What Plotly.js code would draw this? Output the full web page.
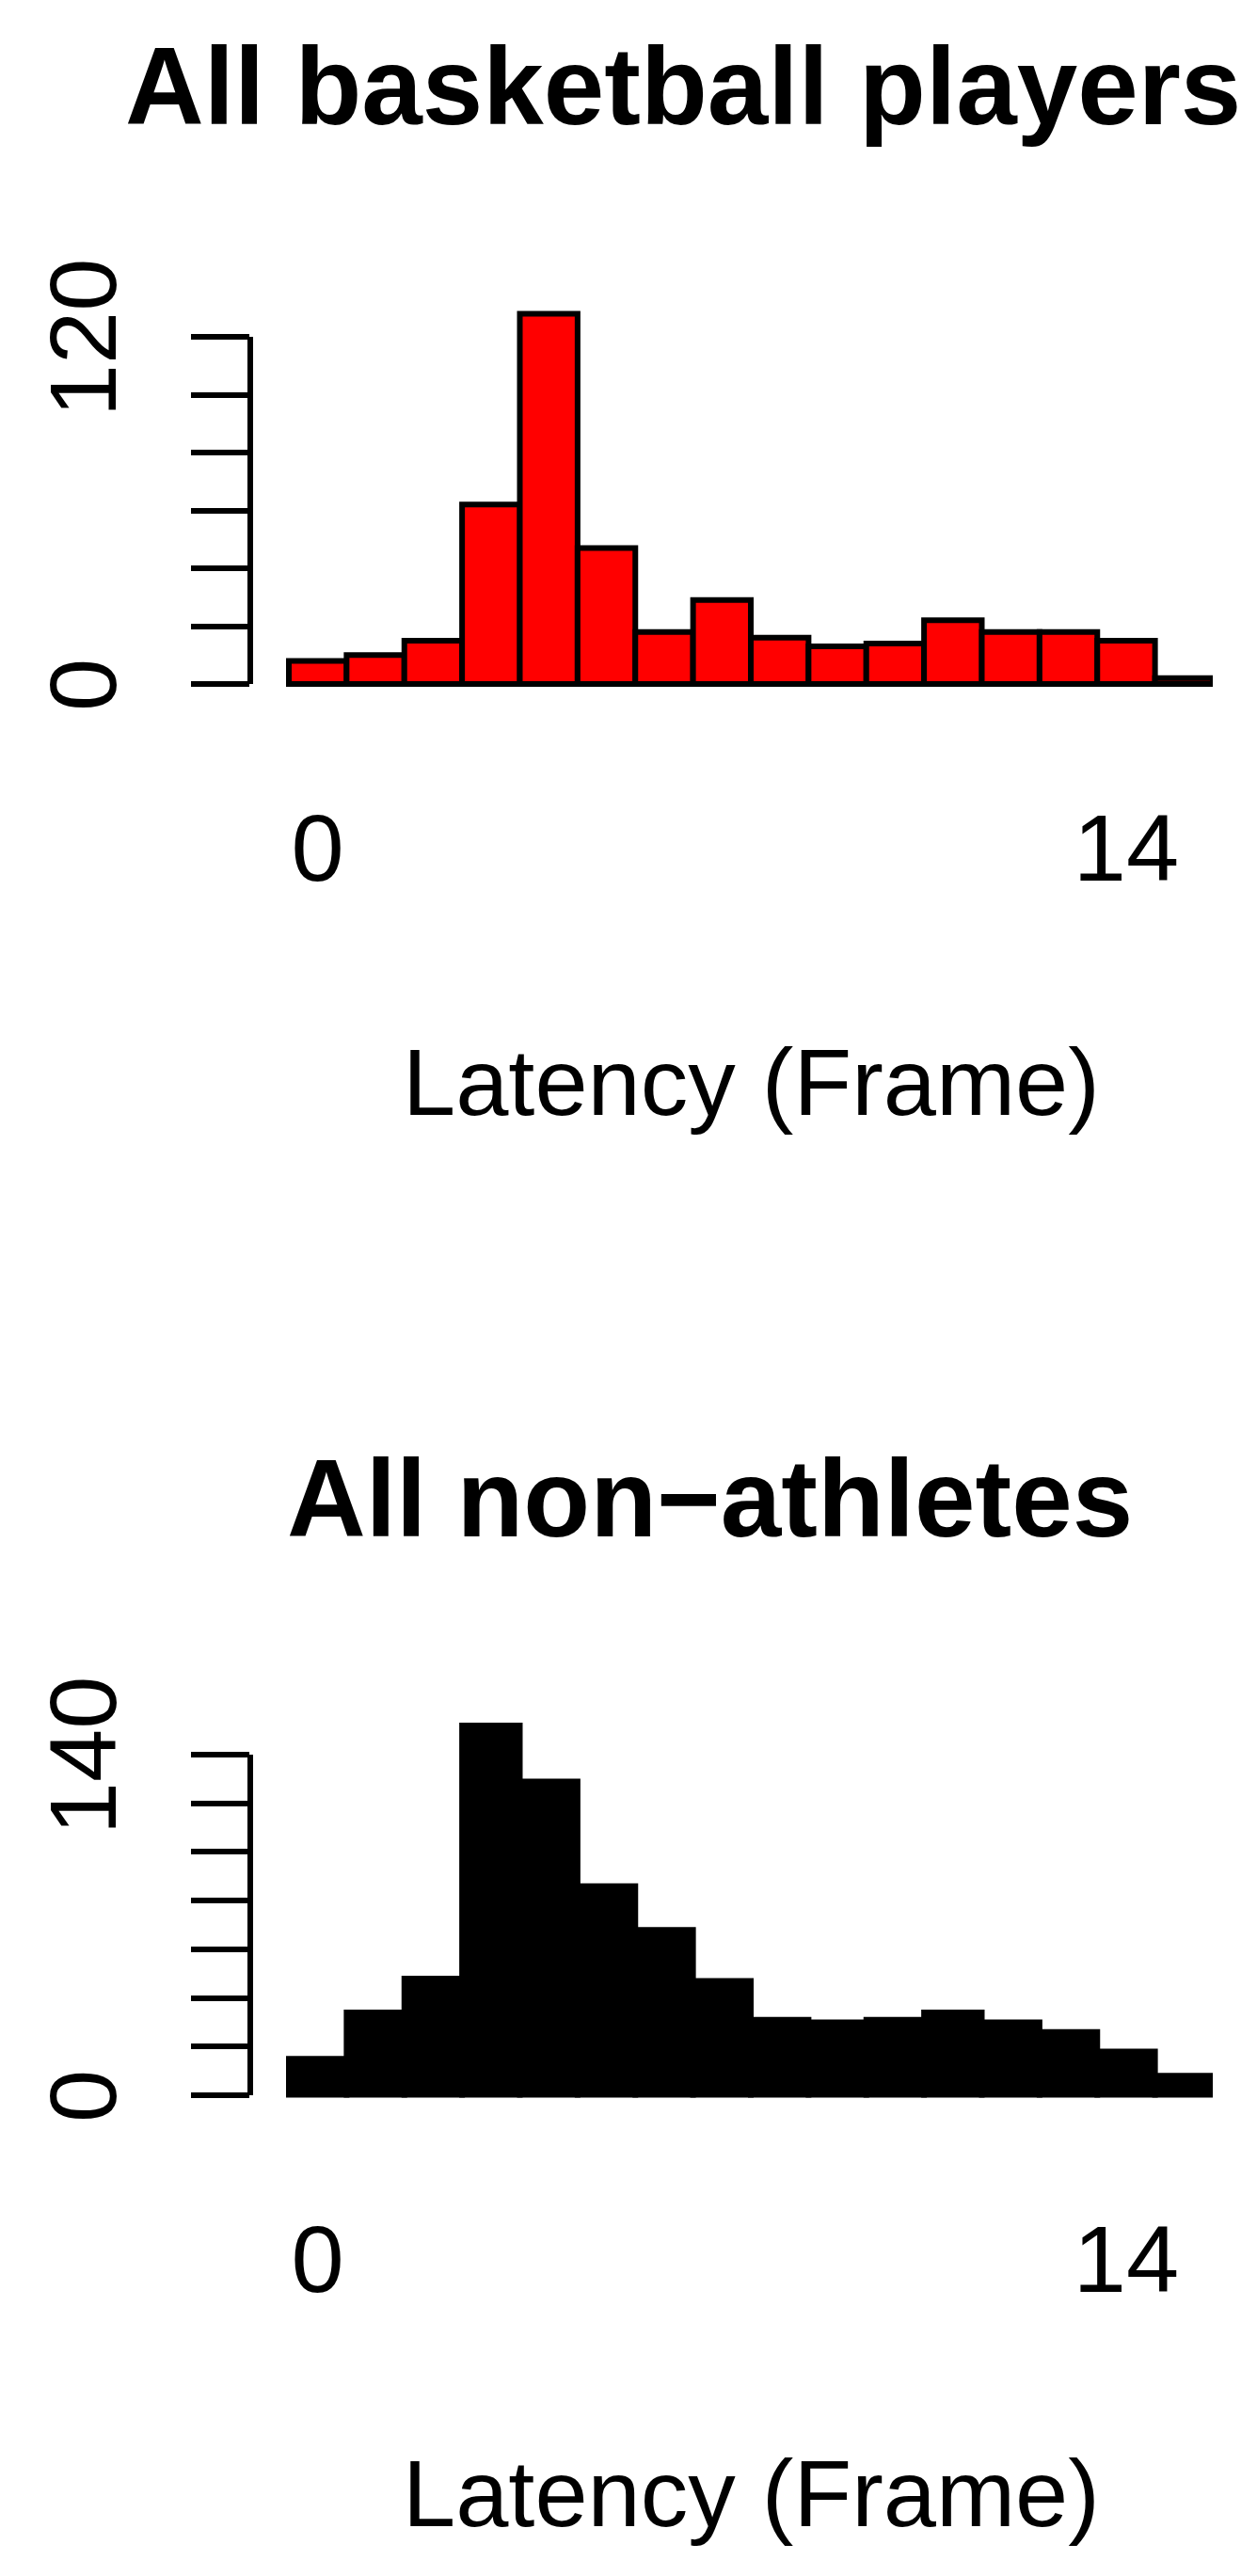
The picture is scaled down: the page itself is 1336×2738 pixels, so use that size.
<!DOCTYPE html>
<html>
<head>
<meta charset="utf-8">
<script src="https://cdn.plot.ly/plotly-3.0.1.min.js"></script>
<style>html,body{margin:0;padding:0;background:#fff;}</style>
</head>
<body>
<div id="plot-area" style="width:1336px;height:2738px;"></div>
<script>
// --- データ ---
const latencyBins = [0, 1, 2, 3, 4, 5, 6, 7, 8, 9, 10, 11, 12, 13, 14, 15];
const basketballCounts = [8, 10, 15, 62, 128, 47, 18, 29, 16, 13, 14, 22, 18, 18, 15, 2];
const nonAthleteCounts = [15, 34, 48, 152, 129, 86, 68, 47, 31, 30, 31, 34, 30, 26, 18, 8];
const basketballTicks = [0, 20, 40, 60, 80, 100, 120];
const nonAthleteTicks = [0, 20, 40, 60, 80, 100, 120, 140];
const xTickVals = [0, 14];
const xTickText = ['0', '14'];
const titles = ['All basketball players', 'All non\u2212athletes'];
const xLabel = 'Latency (Frame)';

const FONT = 'Liberation Sans, Arial, Helvetica, sans-serif';
const H = 2738;
const W = 1336;
const LW = 6;

// ページのピクセル位置 -> paper座標
const py = px => 1 - px / H;
const px = v => v / W;

// 端のラベルだけ表示
const edgeLabels = ticks => ticks.map((t, i) => (i === 0 || i === ticks.length - 1) ? String(t) : '');

const xDomain = [px(266), px(1289)];
const xRange = [-1.168, 15.5];

function yAxisDef(ticks, domain, range) {
    return {
        domain: domain,
        range: range,
        showgrid: false,
        zeroline: false,
        showline: false,
        ticks: 'outside',
        ticklen: 62,
        tickwidth: LW,
        tickcolor: '#000',
        tickvals: ticks,
        ticktext: edgeLabels(ticks),
        tickangle: -90,
        ticklabelstandoff: 40,
        ticklabelshift: 16,
        tickfont: { family: FONT, size: 101, color: '#000' },
        fixedrange: true
    };
}

function xAxisDef(anchor) {
    return {
        domain: xDomain,
        range: xRange,
        anchor: anchor,
        showgrid: false,
        zeroline: false,
        showline: false,
        ticks: '',
        tickvals: xTickVals,
        ticktext: xTickText,
        ticklabelstandoff: 104,
        tickfont: { family: FONT, size: 101, color: '#000' },
        fixedrange: true
    };
}

const data = [
    {
        type: 'bar',
        x: latencyBins,
        y: basketballCounts,
        xaxis: 'x',
        yaxis: 'y',
        marker: { color: '#ff0000', line: { color: '#000', width: LW } },
        hoverinfo: 'none'
    },
    {
        type: 'bar',
        x: latencyBins,
        y: nonAthleteCounts,
        xaxis: 'x2',
        yaxis: 'y2',
        marker: { color: '#000', line: { color: '#000', width: LW } },
        hoverinfo: 'none'
    }
];

// 0〜最大目盛りまでの軸線（R風）
const axisLines = [
    { yref: 'y', top: basketballTicks[basketballTicks.length - 1], xref: 'x domain' },
    { yref: 'y2', top: nonAthleteTicks[nonAthleteTicks.length - 1], xref: 'x2 domain' }
].map(a => ({
    type: 'line',
    xref: a.xref, yref: a.yref,
    x0: 0, x1: 0, y0: 0, y1: a.top,
    line: { color: '#000', width: LW }
}));

const annotations = [
    { text: '<b>' + titles[0] + '</b>', x: px(726), y: py(92), size: 116 },
    { text: '<b>' + titles[1] + '</b>', x: px(754), y: py(1593), size: 116 },
    { text: xLabel, x: px(799), y: py(1150), size: 101 },
    { text: xLabel, x: px(799), y: py(2650), size: 101 }
].map(a => ({
    text: a.text,
    x: a.x, y: a.y,
    xref: 'paper', yref: 'paper',
    xanchor: 'center', yanchor: 'middle',
    showarrow: false,
    font: { family: FONT, size: a.size, color: '#000' }
}));

const layout = {
    width: W,
    height: H,
    margin: { l: 0, r: 0, t: 0, b: 0 },
    showlegend: false,
    bargap: 0,
    paper_bgcolor: 'white',
    plot_bgcolor: 'white',
    xaxis: xAxisDef('y'),
    yaxis: yAxisDef(basketballTicks, [py(730.075), py(311.9)], [-1, 135]),
    xaxis2: xAxisDef('y2'),
    yaxis2: yAxisDef(nonAthleteTicks, [py(2229.59), py(1813.3)], [-1, 160]),
    shapes: axisLines,
    annotations: annotations
};

Plotly.newPlot('plot-area', data, layout, { displayModeBar: false, staticPlot: true });
</script>
</body>
</html>
